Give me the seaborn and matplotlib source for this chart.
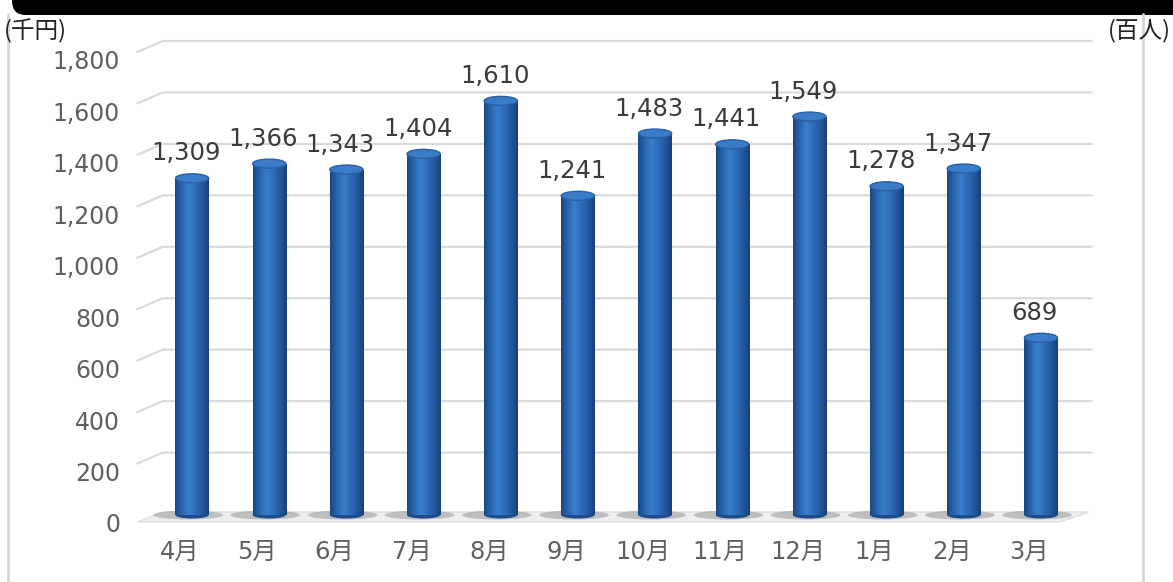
import numpy as np
import matplotlib
matplotlib.use("Agg")
import matplotlib.pyplot as plt
import matplotlib.transforms as mtransforms
from matplotlib.patches import Ellipse, Polygon, FancyBboxPatch
from matplotlib.colors import LinearSegmentedColormap
import seaborn as sns

# Monthly values (千円)
months = ["4月", "5月", "6月", "7月", "8月", "9月", "10月", "11月", "12月", "1月", "2月", "3月"]
values = [1309, 1366, 1343, 1404, 1610, 1241, 1483, 1441, 1549, 1278, 1347, 689]
yticks = [0, 200, 400, 600, 800, 1000, 1200, 1400, 1600, 1800]
ytick_labels = ["0", "200", "400", "600", "800", "1,000", "1,200", "1,400", "1,600", "1,800"]

sns.set_theme(style="white")
plt.rcParams["font.family"] = ["DejaVu Sans", "Noto Sans CJK JP"]

W, H, DPI = 1173, 582, 100
fig = plt.figure(figsize=(W / DPI, H / DPI), dpi=DPI)
fig.patch.set_facecolor("white")

ax = fig.add_axes([153.5 / W, 67 / H, 926 / W, 463 / H])
ax.set_facecolor("none")

BAR_W = 0.43
sns.barplot(x=months, y=values, color="#2A66B0", width=BAR_W, ax=ax,
            saturation=1, zorder=3, edgecolor="none")

ax.set_xlim(-0.5, 11.5)
ax.set_ylim(0, 1800)
for s in ax.spines.values():
    s.set_visible(False)

# data units per pixel (vertical) for the pseudo-3D depth
px = 1800 / 463.0
depth = 11 * px

# floor
floor = Polygon([(-0.71, -7 * px), (11.25, -7 * px), (11.62, 3 * px), (-0.38, 3 * px)],
                closed=True, facecolor="#eeeeee", edgecolor="#dedede", lw=1,
                zorder=1, clip_on=False)
ax.add_patch(floor)

# back-wall gridlines with a short side-wall segment
for v in yticks[1:]:
    ax.plot([-0.71, -0.38, 11.66], [v, v + depth, v + depth], color="#dadada",
            lw=1.6, zorder=1, clip_on=False, solid_capstyle="round")

# cylinder shading
shade = LinearSegmentedColormap.from_list(
    "cyl", ["#1a4782", "#2a66b0", "#3a7fcc", "#2e6cb8", "#2459a0", "#183f78"])
grad = np.linspace(0, 1, 64).reshape(1, -1)
for p in ax.patches[:len(values)]:
    x0, w, h = p.get_x(), p.get_width(), p.get_height()
    cx = x0 + w / 2
    # shadow on floor
    ax.add_patch(Ellipse((cx - 0.05, 0), w * 2.1, 9 * px, facecolor="#8f8f8f",
                         alpha=0.5, edgecolor="none", zorder=2, clip_on=False))
    im = ax.imshow(grad, extent=[x0, x0 + w, 0, h], aspect="auto", cmap=shade,
                   zorder=4, interpolation="bicubic")
    im.set_clip_path(p)
    # rounded top cap
    ax.add_patch(Ellipse((cx, h), w, 9 * px, facecolor="#3a7cc9",
                         edgecolor="#2a5fa3", lw=1.0, zorder=5, clip_on=False))
    # rounded bottom edge
    ax.add_patch(Ellipse((cx, 0), w, 7 * px, facecolor="#1d4c8a",
                         edgecolor="none", zorder=3.5, clip_on=False))

ax.set_xlim(-0.5, 11.5)
ax.set_ylim(0, 1800)

# value labels
for i, v in enumerate(values):
    ax.annotate(f"{v:,}", xy=(i, v), xytext=(-6, 13), textcoords="offset pixels",
                ha="center", va="bottom", fontsize=17.5, color="#3a3a3a", zorder=6)

# axis tick labels
ax.set_yticks(yticks)
ax.set_yticklabels(ytick_labels)
ax.tick_params(axis="y", length=0, pad=24, labelsize=17, labelcolor="#606060")
ax.tick_params(axis="x", length=0, pad=18, labelsize=17.5, labelcolor="#606060")
ax.set_xlabel("")
ax.set_ylabel("")
ax.grid(False)
dy = mtransforms.ScaledTranslation(0, -8 / DPI, fig.dpi_scale_trans)
for lab in ax.get_yticklabels():
    lab.set_transform(lab.get_transform() + dy)
dx = mtransforms.ScaledTranslation(-12 / DPI, 0, fig.dpi_scale_trans)
for lab in ax.get_xticklabels():
    lab.set_transform(lab.get_transform() + dx)

# unit labels
fig.text(4 / W, 1 - 31 / H, "(千円)", ha="left", va="center", fontsize=17,
         color="#222222", family=["Noto Sans CJK JP"])
fig.text(1171 / W, 1 - 31 / H, "(百人)", ha="right", va="center", fontsize=17,
         color="#222222", family=["Noto Sans CJK JP"])

# frame lines
fig.add_artist(plt.Line2D([8 / W, 8 / W], [0, 1 - 14 / H], color="#d6d6d6", lw=2,
                          transform=fig.transFigure))
fig.add_artist(plt.Line2D([1143 / W, 1143 / W], [0, 1 - 14 / H], color="#d6d6d6", lw=2,
                          transform=fig.transFigure))

# heading band
band = FancyBboxPatch((12 / W, 1 - 15 / H), 1200 / W, 30 / H,
                      boxstyle="round,pad=0,rounding_size=0.012",
                      transform=fig.transFigure, facecolor="black",
                      edgecolor="none", mutation_aspect=W / H)
fig.add_artist(band)

fig.savefig("out.png", dpi=DPI)
